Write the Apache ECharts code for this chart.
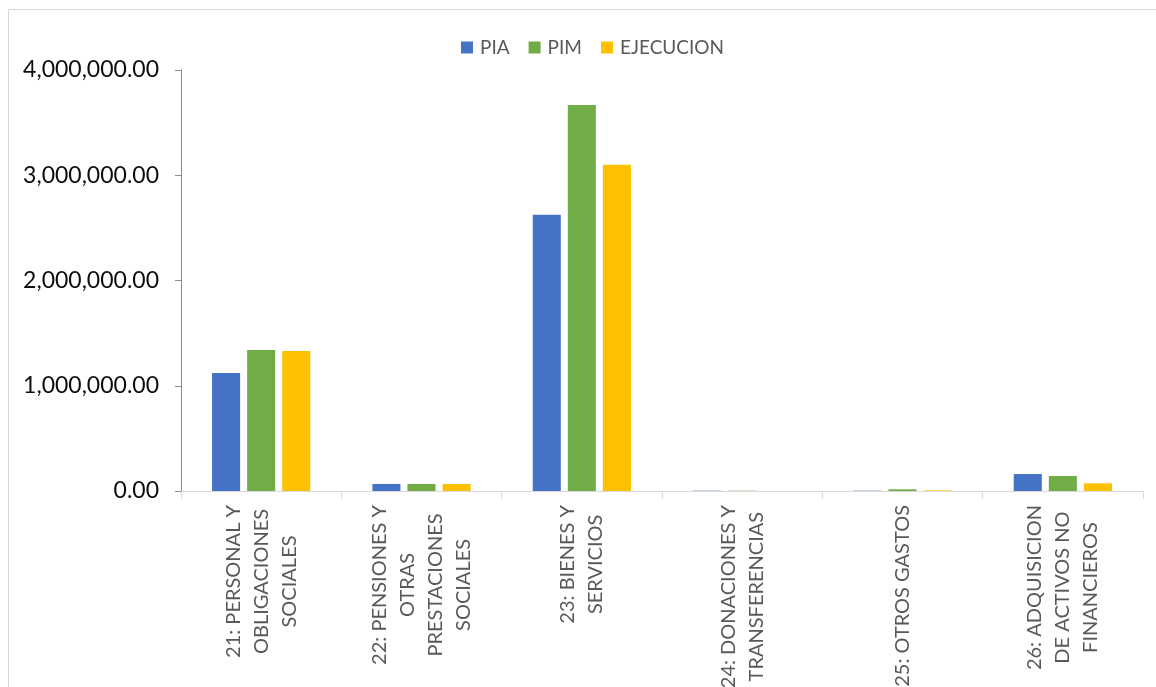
<!DOCTYPE html>
<html>
<head>
<meta charset="utf-8">
<script src="https://cdn.jsdelivr.net/npm/echarts@6/dist/echarts.min.js"></script>
<style>
html,body{margin:0;padding:0;background:#fff;}
#main{width:1156px;height:687px;}
</style>
</head>
<body>
<div id="main"></div>
<script>
var categorias = [
    '21: PERSONAL Y\nOBLIGACIONES\nSOCIALES',
    '22: PENSIONES Y\nOTRAS\nPRESTACIONES\nSOCIALES',
    '23: BIENES Y\nSERVICIOS',
    '24: DONACIONES Y\nTRANSFERENCIAS',
    '25: OTROS GASTOS',
    '26: ADQUISICION\nDE ACTIVOS NO\nFINANCIEROS'
];
var pia = [1121000, 67000, 2625000, 3000, 3000, 161000];
var pim = [1340000, 67000, 3667000, 2500, 16000, 143000];
var ejecucion = [1330000, 66000, 3100000, 500, 6000, 73000];

var dom = document.getElementById('main');
var myChart = echarts.init(dom);

// cada linea centrada dentro del bloque girado
function etiqueta(v){
    return v.split('\n').map(function(l){ return '{c|' + l + '}'; }).join('\n');
}

option = {
    animation: false,
    graphic: [{
        type: 'rect',
        shape: {x: 8.5, y: 9.5, width: 1200, height: 800},
        style: {fill: 'none', stroke: '#d9d9d9', lineWidth: 1}
    }],
    legend: {
        data: ['PIA', 'PIM', 'EJECUCION'],
        left: 456,
        top: 33,
        itemWidth: 12,
        itemHeight: 12,
        itemGap: 19,
        icon: 'rect',
        textStyle: {
            color: '#595959',
            fontFamily: 'Lato',
            fontSize: 19,
            padding: [0, 0, 0, 2]
        }
    },
    grid: {
        left: 181,
        right: 13,
        top: 70,
        bottom: 196,
        containLabel: false,
        outerBoundsMode: 'none'
    },
    xAxis: {
        type: 'category',
        data: categorias,
        axisLine: {lineStyle: {color: '#d9d9d9', width: 1}},
        axisTick: {show: true, length: 8, lineStyle: {color: '#d9d9d9'}},
        axisLabel: {
            rotate: 90,
            interval: 0,
            margin: 14,
            formatter: etiqueta,
            rich: {
                c: {
                    align: 'center',
                    color: '#595959',
                    fontFamily: 'Lato',
                    fontSize: 20,
                    lineHeight: 28
                }
            }
        }
    },
    yAxis: {
        type: 'value',
        min: 0,
        max: 4000000,
        interval: 1000000,
        splitLine: {show: false},
        axisLine: {show: true, lineStyle: {color: '#8c8c8c', width: 1}},
        axisTick: {show: true, length: 6, lineStyle: {color: '#8c8c8c'}},
        axisLabel: {
            margin: 22,
            color: '#0d0d0d',
            fontFamily: 'Lato',
            fontSize: 23,
            formatter: function(v){
                return v.toLocaleString('en-US', {minimumFractionDigits: 2, maximumFractionDigits: 2});
            }
        }
    },
    series: [{
        name: 'PIA',
        type: 'bar',
        data: pia,
        barGap: '25%',
        barCategoryGap: '38.75%',
        itemStyle: {color: '#4472c4'}
    }, {
        name: 'PIM',
        type: 'bar',
        data: pim,
        itemStyle: {color: '#70ad47'}
    }, {
        name: 'EJECUCION',
        type: 'bar',
        data: ejecucion,
        itemStyle: {color: '#ffc000'}
    }]
};
if (option && typeof option == "object") {
    myChart.setOption(option, true);
}
</script>
</body>
</html>
